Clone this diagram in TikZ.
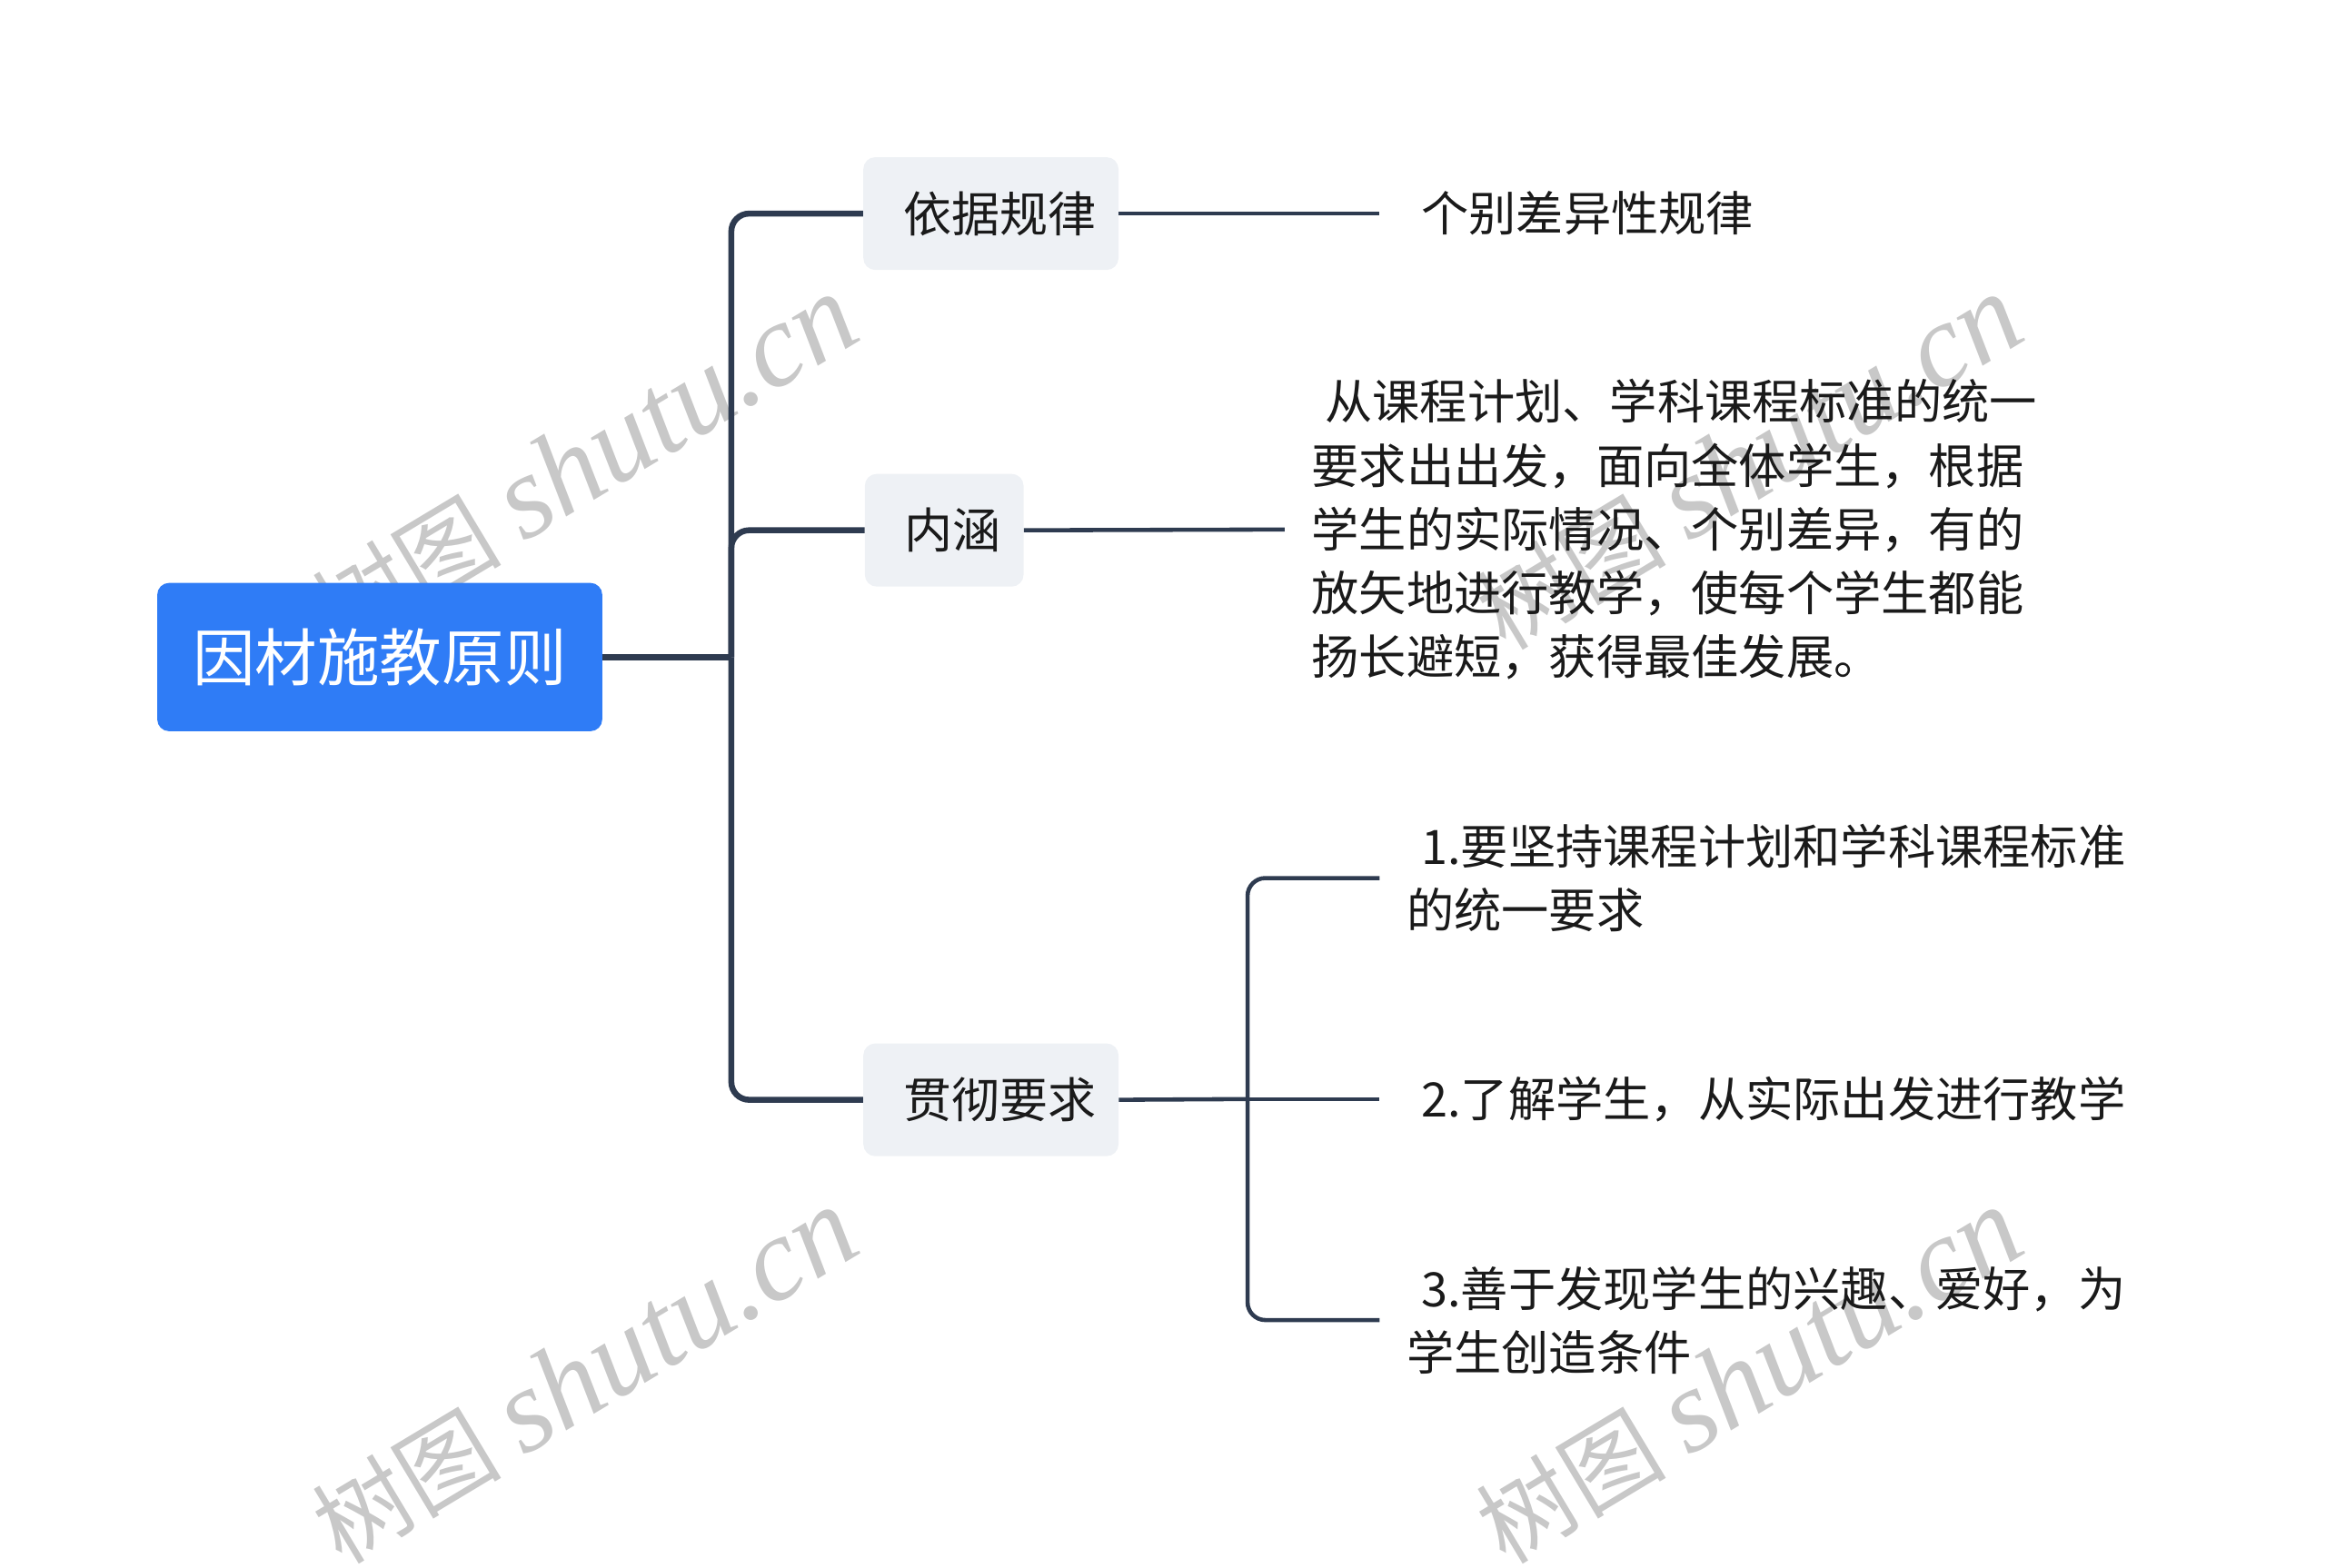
\documentclass[tikz,border=0pt]{standalone}
\usepackage{fontspec}
\setmainfont{Noto Sans CJK SC}
\newfontfamily\wmlatin{Liberation Serif}
\newfontfamily\wmcjk{Noto Sans CJK SC}
\definecolor{rootc}{HTML}{2F7CF6}
\definecolor{branchc}{HTML}{EEF1F5}
\definecolor{linec}{HTML}{2E3B50}
\definecolor{textc}{HTML}{1A1A1A}
\definecolor{wmc}{HTML}{C8C8C8}
\begin{document}
\begin{tikzpicture}[x=1pt,y=-1pt,
  trunkline/.style={draw=linec, line width=4pt, rounded corners=12pt},
  subline/.style={draw=linec, line width=2.8pt, rounded corners=12pt},
  rootbox/.style={fill=rootc, rounded corners=8pt, minimum width=300pt, minimum height=100pt, inner sep=0pt, text=white, font=\fontsize{42}{50}\selectfont},
  branchbox/.style={fill=branchc, rounded corners=8pt, minimum height=76pt, inner xsep=0pt, inner ysep=0pt, text=textc, font=\fontsize{32.5}{43}\selectfont},
  leaf/.style={anchor=west, inner xsep=18pt, inner ysep=0pt, align=left, text=textc, font=\fontsize{32}{43}\selectfont},
  wm/.style={text=wmc, rotate=31, inner sep=0pt}
]
\useasboundingbox (0,0) rectangle (1568,1057);

% watermarks
\foreach \wx/\wy [count=\i] in {394/312, 394/928, 1179/928, 1179/312}{
  \node[wm] (wm\i) at (\wx,\wy) {{\wmcjk\fontsize{64}{66}\selectfont 树图}\hspace{15pt}{\wmlatin\itshape\fontsize{80}{82}\selectfont shutu.cn}};
}

% nodes
\node[rootbox] (root) at (256,443) {因材施教原则};
\node[branchbox] (b1) at (668,144) {\hspace*{27pt}依据规律\hspace*{15pt}};
\node[branchbox] (b2) at (636.5,357.5) {\hspace*{27pt}内涵\hspace*{15pt}};
\node[branchbox] (b3) at (668,741.5) {\hspace*{27pt}贯彻要求\hspace*{15pt}};

\node[leaf] (l1) at (930,144) {\hspace*{10pt}个别差异性规律};
\node[leaf] (l2) at (866,357) {\hspace*{9pt}从课程计划、学科课程标准的统一\\要求出出发，面向全体学生，根据\\学生的实际情况、个别差异，有的\\放矢地进行教学，使每个学生都能\\扬长避短，获得最佳发展。};
\node[leaf] (l3a) at (930,592) {\hspace*{10pt}1.要坚持课程计划和学科课程标准\\的统一要求};
\node[leaf] (l3b) at (930,741) {\hspace*{10pt}2.了解学生，从实际出发进行教学};
\node[leaf] (l3c) at (930,890) {\hspace*{10pt}3.善于发现学生的兴趣、爱好，为\\学生创造条件};

% junctions
\coordinate (j1) at (493,443);
\coordinate (j2) at (841,741);

% connectors level 1
\draw[trunkline] (root.east) -- (j1);
\draw[trunkline] (j1) |- (b1.west);
\draw[trunkline] (j1) |- (b2.west);
\draw[trunkline] (j1) |- (b3.west);

% connectors level 2
\draw[subline] (b1.east) -- (l1.west);
\draw[subline] (b2.east) -- (l2.west);
\draw[subline] (b3.east) -- (j2);
\draw[subline] (j2) |- (l3a.west);
\draw[subline] (j2) -- (l3b.west);
\draw[subline] (j2) |- (l3c.west);
\end{tikzpicture}
\end{document}
